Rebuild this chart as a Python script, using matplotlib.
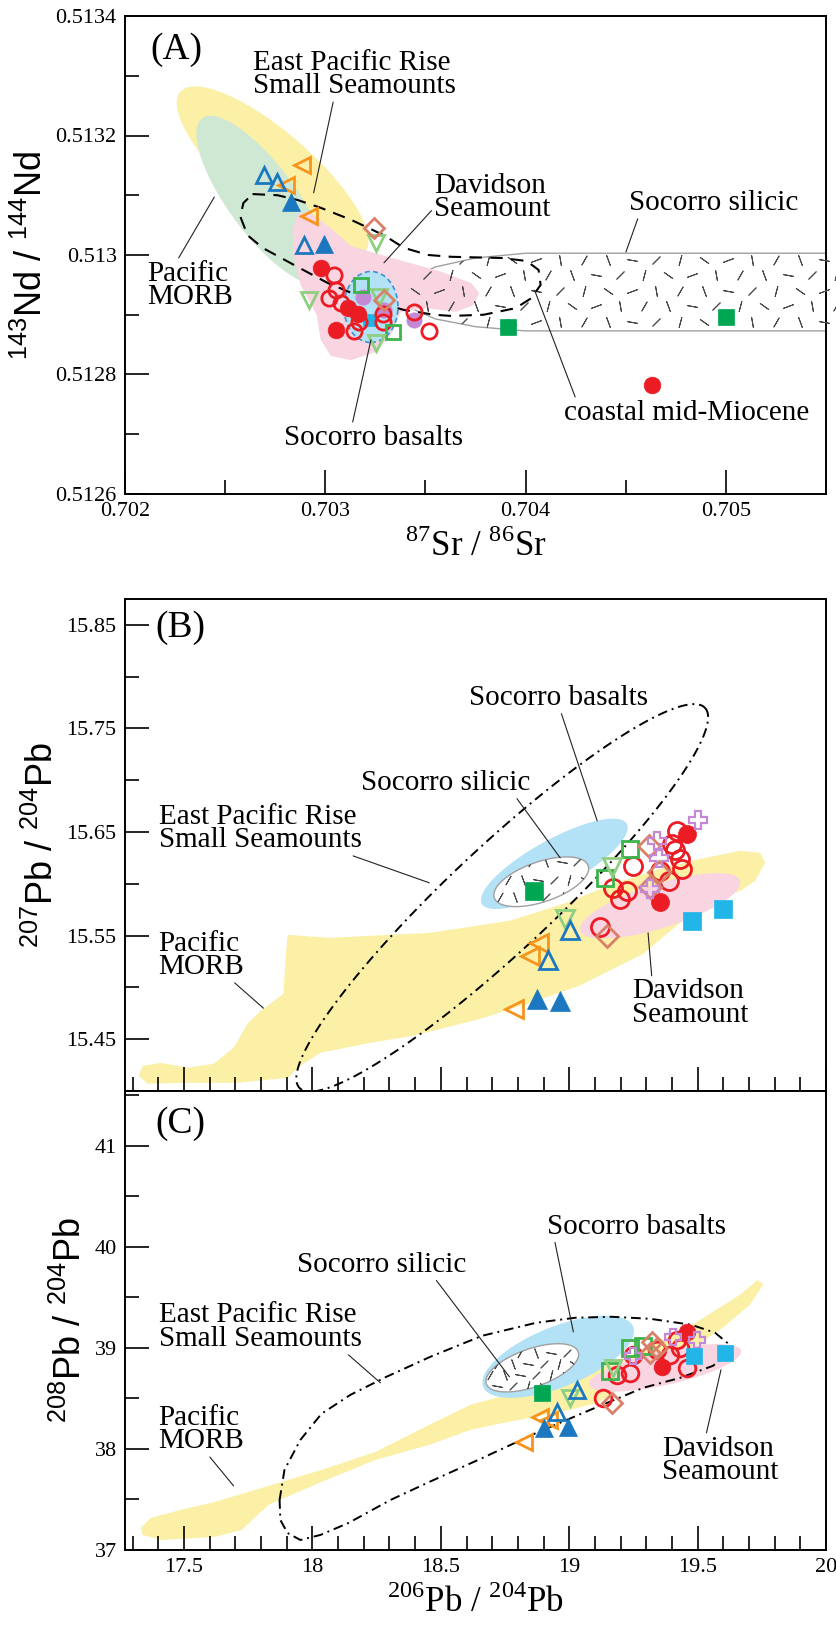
import numpy as np
import matplotlib
matplotlib.use("Agg")
import matplotlib.pyplot as plt
from matplotlib.patches import Polygon, Ellipse

plt.rcParams["font.family"] = ["Liberation Serif", "DejaVu Serif"]
plt.rcParams["mathtext.fontset"] = "custom"
plt.rcParams["mathtext.rm"] = "Liberation Serif"
plt.rcParams["mathtext.sf"] = "Liberation Sans"

# field / marker colours
YELLOW = "#fbf0a6"
GREENF = "#cfe8d3"
PINK = "#f9d4e1"
BLUEF = "#b3e1f5"
C_BLUE = "#1b78c0"
C_ORANGE = "#f7941d"
C_RED = "#ec1c24"
C_GREEN = "#00a651"
C_GREEN2 = "#3cb44b"
C_LGREEN = "#8fcf80"
C_SALMON = "#d98068"
C_PURPLE = "#c489d4"
C_CYAN = "#22b5e8"

# ---------------- panel A : 87Sr/86Sr vs 143Nd/144Nd ----------------
A_blue_open_x = [0.702693, 0.70276, 0.702894]
A_blue_open_y = [0.513134, 0.513123, 0.513017]
A_blue_fill_x = [0.702827, 0.702994]
A_blue_fill_y = [0.513089, 0.513018]
A_orange_x = [0.702886, 0.702919, 0.702802]
A_orange_y = [0.513151, 0.513065, 0.513117]
A_diamond_x = [0.703245, 0.703293]
A_diamond_y = [0.513045, 0.512925]
A_lgreen_x = [0.703253, 0.702919, 0.703253, 0.703268]
A_lgreen_y = [0.51302, 0.512925, 0.512853, 0.51293]
A_red_fill_x = [0.702977, 0.703053, 0.703111, 0.703161, 0.704632]
A_red_fill_y = [0.512978, 0.512874, 0.512911, 0.512902, 0.512782]
A_red_open_x = [0.703044, 0.703053, 0.703019, 0.703078, 0.703169, 0.703144,
                0.703287, 0.703287, 0.703445, 0.70352]
A_red_open_y = [0.512967, 0.512941, 0.512928, 0.512919, 0.512888, 0.512872,
                0.512902, 0.512888, 0.512905, 0.512872]
A_purple_x = [0.703186, 0.703295, 0.703445]
A_purple_y = [0.51293, 0.512908, 0.512891]
A_gsq_open_x = [0.703178, 0.703337]
A_gsq_open_y = [0.51295, 0.512871]
A_cyan_x = [0.703218]
A_cyan_y = [0.512891]
A_gsq_fill_x = [0.703912, 0.70500]
A_gsq_fill_y = [0.51288, 0.512897]

# fields in A (centre, two conjugate half-axes) and outlines
A_MORB = ((0.702737, 0.513139), (0.000461, -0.000134), (0.000130, 0.0000502))
A_GREEN = ((0.702687, 0.513092), (0.000301, -0.000137), (0.000137, 0.0000335))
A_BASALT = ((0.703228, 0.512913), 0.00027, 0.000119)
A_DAVIDSON = [(0.702862, 0.513067), (0.702912, 0.513074), (0.703028, 0.513045),
              (0.703128, 0.513015), (0.703313, 0.512997), (0.703579, 0.512972),
              (0.703729, 0.512953), (0.703769, 0.512936), (0.703739, 0.512916),
              (0.703654, 0.512905), (0.703504, 0.512911), (0.703378, 0.512905),
              (0.703328, 0.512866), (0.703253, 0.512838), (0.703128, 0.512824),
              (0.703028, 0.512831), (0.702977, 0.512858), (0.702957, 0.5129),
              (0.702877, 0.51295), (0.702842, 0.5130), (0.702837, 0.513042)]
A_EPR = [(0.702637, 0.513102), (0.702762, 0.513100), (0.702862, 0.513092),
         (0.702977, 0.513079), (0.703128, 0.513059), (0.703293, 0.513033),
         (0.703393, 0.513012), (0.703514, 0.5130), (0.703629, 0.512997),
         (0.70388, 0.512995), (0.704005, 0.51299), (0.704065, 0.512975),
         (0.704075, 0.51295), (0.70403, 0.512928), (0.70395, 0.512911),
         (0.70379, 0.5129), (0.703629, 0.512898), (0.703544, 0.5129),
         (0.703393, 0.512908), (0.703213, 0.512925), (0.703013, 0.512953),
         (0.702862, 0.51298), (0.702687, 0.513012), (0.702612, 0.513033),
         (0.702576, 0.513064), (0.702591, 0.513087)]
A_SILICIC = [(0.7062, 0.513003), (0.7040, 0.513003), (0.70375, 0.512995),
             (0.70355, 0.51298), (0.70342, 0.51296), (0.70336, 0.512938),
             (0.70342, 0.512912), (0.70355, 0.512893), (0.70375, 0.51288),
             (0.7040, 0.512873), (0.7062, 0.512873)]

# ---------------- panel B : 206Pb/204Pb vs 207Pb/204Pb ----------------
B_gsq_fill_x = [18.861]
B_gsq_fill_y = [15.593]
B_gsq_open_x = [19.237, 19.140]
B_gsq_open_y = [15.6335, 15.606]
B_lgreen_x = [19.166, 18.984]
B_lgreen_y = [15.616, 15.566]
B_blue_open_x = [19.004, 18.919]
B_blue_open_y = [15.555, 15.526]
B_orange_x = [18.881, 18.848, 18.783]
B_orange_y = [15.543, 15.530, 15.479]
B_blue_fill_x = [18.874, 18.965]
B_blue_fill_y = [15.489, 15.487]
B_red_open_x = [19.121, 19.25, 19.172, 19.224, 19.198, 19.387, 19.354, 19.419,
                19.40, 19.412, 19.432, 19.438]
B_red_open_y = [15.558, 15.617, 15.596, 15.593, 15.585, 15.603, 15.612, 15.651,
                15.638, 15.633, 15.624, 15.614]
B_red_fill_x = [19.458, 19.354]
B_red_fill_y = [15.648, 15.582]
B_diamond_x = [19.147, 19.309, 19.315, 19.348]
B_diamond_y = [15.550, 15.637, 15.597, 15.611]
B_purple_x = [19.503, 19.341, 19.348, 19.315]
B_purple_y = [15.662, 15.641, 15.625, 15.595]
B_cyan_x = [19.477, 19.599]
B_cyan_y = [15.564, 15.576]

B_BASALT = ((18.942, 15.6193), (0.2821, 0.0386), (0.0451, -0.0203))
B_SILICIC = ((18.891, 15.602), (0.1829, 0.01544), (0.0249, -0.01834))
B_DAVIDSON = ((19.354, 15.5788), (0.3113, 0.02413), (0.0257, -0.0203))
B_EPR = ((18.739, 15.5865), (0.7899, 0.1834), (0.1381, -0.03668))
B_MORB = [(17.903, 15.5508), (18.070, 15.5479), (18.455, 15.5527), (18.767, 15.5643),
          (18.977, 15.5807), (19.183, 15.6010), (19.354, 15.6145), (19.510, 15.6241),
          (19.665, 15.6319), (19.743, 15.6299), (19.763, 15.6203), (19.724, 15.6029),
          (19.665, 15.5932), (19.510, 15.5788), (19.288, 15.5324), (19.039, 15.5015),
          (18.872, 15.4871), (18.654, 15.4697), (18.393, 15.4533), (18.226, 15.4465),
          (18.031, 15.4369), (17.953, 15.4243), (17.903, 15.4127), (17.708, 15.4079),
          (17.514, 15.4079), (17.358, 15.4070), (17.323, 15.4147), (17.339, 15.4243),
          (17.409, 15.4272), (17.514, 15.4224), (17.615, 15.4263), (17.693, 15.4417),
          (17.747, 15.4649), (17.798, 15.4774), (17.887, 15.4938), (17.895, 15.5257)]

# ---------------- panel C : 206Pb/204Pb vs 208Pb/204Pb ----------------
C_gsq_fill_x = [18.894]
C_gsq_fill_y = [38.551]
C_blue_open_x = [19.030, 18.952]
C_blue_open_y = [38.584, 38.369]
C_lgreen_x = [19.004, 19.172]
C_lgreen_y = [38.502, 38.80]
C_blue_fill_x = [18.900, 18.997]
C_blue_fill_y = [38.205, 38.221]
C_orange_x = [18.887, 18.920, 18.822]
C_orange_y = [38.32, 38.287, 38.072]
C_red_open_x = [19.133, 19.186, 19.237, 19.25, 19.341, 19.393, 19.432, 19.458, 19.419]
C_red_open_y = [38.502, 38.733, 38.75, 38.93, 38.98, 38.93, 38.997, 38.80, 39.08]
C_red_fill_x = [19.361, 19.458]
C_red_fill_y = [38.815, 39.161]
C_gsq_open_x = [19.16, 19.237, 19.289]
C_gsq_open_y = [38.766, 38.997, 39.013]
C_diamond_x = [19.166, 19.322, 19.341, 19.315]
C_diamond_y = [38.452, 39.06, 38.997, 38.947]
C_purple_x = [19.406, 19.497, 19.25]
C_purple_y = [39.11, 39.08, 38.914]
C_cyan_x = [19.484, 19.605]
C_cyan_y = [38.914, 38.953]

C_BASALT = ((18.957, 38.911), (0.2918, 0.297), (0.0428, -0.2772))
C_SILICIC = ((18.856, 38.802), (0.179, 0.1584), (0.0241, -0.1782))
C_DAVIDSON = ((19.3735, 38.802), (0.2957, 0.1683), (0.0144, -0.1644))
C_MORB = [(17.331, 37.218), (17.370, 37.317), (17.486, 37.396), (17.619, 37.475),
          (17.829, 37.634), (18.035, 37.792), (18.245, 37.970), (18.455, 38.238),
          (18.615, 38.436), (18.875, 38.614), (19.078, 38.762), (19.288, 38.980),
          (19.498, 39.257), (19.665, 39.525), (19.735, 39.673), (19.755, 39.624),
          (19.704, 39.426), (19.588, 39.178), (19.498, 39.030), (19.288, 38.733),
          (19.109, 38.455), (19.004, 38.386), (18.743, 38.257), (18.615, 38.188),
          (18.455, 38.040), (18.245, 37.891), (18.035, 37.673), (17.829, 37.446),
          (17.724, 37.198), (17.619, 37.129), (17.412, 37.099), (17.339, 37.149)]
C_EPR = [(17.872, 37.495), (17.891, 37.792), (17.953, 38.089), (18.035, 38.347),
         (18.148, 38.535), (18.288, 38.713), (18.459, 38.911), (18.661, 39.119),
         (18.872, 39.248), (19.023, 39.297), (19.163, 39.307), (19.315, 39.287),
         (19.475, 39.228), (19.568, 39.149), (19.615, 39.050), (19.611, 38.931),
         (19.560, 38.822), (19.432, 38.703), (19.288, 38.604), (19.082, 38.386),
         (18.872, 38.158), (18.654, 37.901), (18.455, 37.673), (18.304, 37.495),
         (18.140, 37.267), (18.031, 37.149), (17.953, 37.099), (17.903, 37.168),
         (17.875, 37.297)]

# labels: text, text position, ha, leader tip, leader start (relpos in text box)
A_LABELS = [
    ("East Pacific Rise\nSmall Seamounts", (0.702637, 0.513302), "left", (0.702942, 0.513104), (0.40, 0.0)),
    ("Pacific\nMORB", (0.70211, 0.512949), "left", (0.702446, 0.513097), (0.35, 1.0)),
    ("Davidson\nSeamount", (0.703544, 0.513096), "left", (0.703293, 0.512987), (0.0, 0.3)),
    ("Socorro silicic", (0.704937, 0.513087), "center", (0.704501, 0.513005), (0.06, 0.0)),
    ("coastal mid-Miocene", (0.704804, 0.512736), "center", (0.704045, 0.512941), (0.05, 1.0)),
    ("Socorro basalts", (0.703241, 0.512694), "center", (0.703228, 0.512858), (0.38, 1.0)),
]
B_LABELS = [
    ("Socorro basalts", (18.959, 15.7795), "center", (19.109, 15.6608), (0.51, 0.0)),
    ("Socorro silicic", (18.518, 15.6975), "center", (18.965, 15.625), (0.91, 0.0)),
    ("East Pacific Rise\nSmall Seamounts", (17.401, 15.6536), "left", (18.455, 15.601), (0.92, 0.0)),
    ("Pacific\nMORB", (17.401, 15.531), "left", (17.809, 15.480), (0.85, 0.0)),
    ("Davidson\nSeamount", (19.245, 15.4847), "left", (19.307, 15.5527), (0.17, 1.0)),
]
C_LABELS = [
    ("Socorro basalts", (19.263, 40.198), "center", (19.016, 39.158), (0.04, 0.0)),
    ("Socorro silicic", (18.27, 39.822), "center", (18.767, 38.713), (0.81, 0.0)),
    ("East Pacific Rise\nSmall Seamounts", (17.401, 39.203), "left", (18.265, 38.653), (0.92, 0.0)),
    ("Pacific\nMORB", (17.401, 38.193), "left", (17.693, 37.634), (0.57, 0.0)),
    ("Davidson\nSeamount", (19.362, 37.886), "left", (19.591, 38.782), (0.375, 1.0)),
]

LABEL_FS = 21
TICK_FS = 16


def conj_ellipse(spec, n=200):
    (cx, cy), u, v = spec
    t = np.linspace(0, 2 * np.pi, n)
    return np.column_stack([cx + u[0] * np.cos(t) + v[0] * np.sin(t),
                            cy + u[1] * np.cos(t) + v[1] * np.sin(t)])


def dash_texture(ax, patch, xs, ys, size):
    # short strokes of varying direction inside the silicic field (decoration only)
    angles = [20, 80, 135, 165, 55, 110, 10, 150]
    k = 0
    for j, yv in enumerate(ys):
        shift = (xs[1] - xs[0]) * 0.5 * (j % 2)
        for xv in xs:
            m = ax.scatter([xv + shift], [yv], marker=(2, 2, angles[k % len(angles)]),
                           s=size, c="#4a4a4a", linewidths=0.7, zorder=3)
            m.set_clip_path(patch)
            k += 1


def pts(ax, x, y, marker, color, filled, ms=11, mew=2.0, z=6):
    if filled:
        ax.plot(x, y, ls="none", marker=marker, ms=ms, mfc=color, mec=color, mew=0.5, zorder=z)
    else:
        ax.plot(x, y, ls="none", marker=marker, ms=ms, mfc="none", mec=color, mew=mew, zorder=z)


def labels(ax, specs):
    for text, pos, ha, tip, rel in specs:
        ax.annotate(text, xy=tip, xytext=pos, ha=ha, va="center", fontsize=LABEL_FS,
                    linespacing=0.88, zorder=8,
                    arrowprops=dict(arrowstyle="-", lw=0.8, color="#222222",
                                    relpos=rel, shrinkA=0, shrinkB=0))


def style_axes(ax):
    for s in ax.spines.values():
        s.set_linewidth(1.4)
    ax.tick_params(which="major", direction="in", length=17, width=1.2, labelsize=TICK_FS, pad=6)
    ax.tick_params(which="minor", direction="in", length=10, width=1.2)
    ax.tick_params(top=False, right=False)


fig = plt.figure(figsize=(8.37, 16.27), dpi=100)
L, W = 125 / 837, 701 / 837
axA = fig.add_axes([L, 1 - 494 / 1627, W, 478 / 1627])
axB = fig.add_axes([L, 1 - 1091 / 1627, W, 492 / 1627])
axC = fig.add_axes([L, 1 - 1550 / 1627, W, 459 / 1627])

# ---------- A ----------
ax = axA
sil = Polygon(A_SILICIC, closed=True, fc="white", ec="#a0a0a0", lw=1.0, zorder=1)
ax.add_patch(sil)
dash_texture(ax, sil, np.arange(0.70345, 0.7060, 0.00012), np.arange(0.512888, 0.512995, 0.000026), 55)
ax.add_patch(Polygon(conj_ellipse(A_MORB), closed=True, fc=YELLOW, ec="none", zorder=1))
ax.add_patch(Polygon(conj_ellipse(A_GREEN), closed=True, fc=GREENF, ec="none", zorder=1.2))
ax.add_patch(Polygon(A_DAVIDSON, closed=True, fc=PINK, ec="none", zorder=1.5))
ax.add_patch(Ellipse(A_BASALT[0], A_BASALT[1], A_BASALT[2], fc=BLUEF, ec="#3a93d6",
                     ls=(0, (3, 2)), lw=1.2, zorder=2))
ax.add_patch(Polygon(A_EPR, closed=True, fc="none", ec="black", lw=1.5,
                     ls=(0, (6, 4)), zorder=5))
pts(ax, A_red_open_x, A_red_open_y, "o", C_RED, False, ms=11)
pts(ax, A_red_fill_x, A_red_fill_y, "o", C_RED, True, ms=12)
pts(ax, A_purple_x, A_purple_y, "o", C_PURPLE, True, ms=11, z=5.5)
pts(ax, A_gsq_open_x, A_gsq_open_y, "s", C_GREEN2, False, ms=10)
pts(ax, A_cyan_x, A_cyan_y, "s", C_CYAN, True, ms=8, z=5.5)
pts(ax, A_gsq_fill_x, A_gsq_fill_y, "s", C_GREEN, True, ms=12)
pts(ax, A_lgreen_x, A_lgreen_y, "v", C_LGREEN, False, ms=11)
pts(ax, A_diamond_x, A_diamond_y, "D", C_SALMON, False, ms=10)
pts(ax, A_orange_x, A_orange_y, "<", C_ORANGE, False, ms=12)
pts(ax, A_blue_open_x, A_blue_open_y, "^", C_BLUE, False, ms=12)
pts(ax, A_blue_fill_x, A_blue_fill_y, "^", C_BLUE, True, ms=13)
labels(ax, A_LABELS)
ax.text(0.702125, 0.513343, "(A)", fontsize=27, ha="left", va="center")
ax.set_xlim(0.702, 0.7055)
ax.set_ylim(0.5126, 0.5134)
ax.set_xticks([0.702, 0.703, 0.704, 0.705])
ax.set_xticklabels(["0.702", "0.703", "0.704", "0.705"])
ax.set_xticks([0.7025, 0.7035, 0.7045, 0.7055], minor=True)
ax.set_yticks([0.5126, 0.5128, 0.513, 0.5132, 0.5134])
ax.set_yticklabels(["0.5126", "0.5128", "0.513", "0.5132", "0.5134"])
ax.set_yticks([0.5127, 0.5129, 0.5131, 0.5133], minor=True)
style_axes(ax)
ax.set_xlabel(r"$^{87}$Sr / $^{86}$Sr", fontsize=25, labelpad=6)
ax.set_ylabel(r"$^{\mathsf{143}}$Nd / $^{\mathsf{144}}$Nd", fontsize=26,
              family=["Liberation Sans", "DejaVu Sans"], labelpad=4)

# ---------- B ----------
ax = axB
ax.add_patch(Polygon(B_MORB, closed=True, fc=YELLOW, ec="none", zorder=1))
ax.add_patch(Polygon(conj_ellipse(B_DAVIDSON), closed=True, fc=PINK, ec="none", zorder=1.5))
ax.add_patch(Polygon(conj_ellipse(B_BASALT), closed=True, fc=BLUEF, ec="none", zorder=1.6))
silB = Polygon(conj_ellipse(B_SILICIC), closed=True, fc="white", ec="#a0a0a0", lw=1.0, zorder=2)
ax.add_patch(silB)
dash_texture(ax, silB, np.arange(18.70, 19.10, 0.06), np.arange(15.57, 15.64, 0.017), 50)
ax.add_patch(Polygon(conj_ellipse(B_EPR), closed=True, fc="none", ec="black", lw=1.4,
                     ls=(0, (5, 2.5, 1, 2.5)), zorder=5))
pts(ax, B_red_open_x, B_red_open_y, "o", C_RED, False, ms=13)
pts(ax, B_red_fill_x, B_red_fill_y, "o", C_RED, True, ms=13)
pts(ax, B_gsq_open_x, B_gsq_open_y, "s", C_GREEN2, False, ms=12)
pts(ax, B_gsq_fill_x, B_gsq_fill_y, "s", C_GREEN, True, ms=13)
pts(ax, B_lgreen_x, B_lgreen_y, "v", C_LGREEN, False, ms=13)
pts(ax, B_diamond_x, B_diamond_y, "D", C_SALMON, False, ms=11)
pts(ax, B_purple_x, B_purple_y, "P", C_PURPLE, False, ms=13, mew=1.6)
pts(ax, B_cyan_x, B_cyan_y, "s", C_CYAN, True, ms=13)
pts(ax, B_orange_x, B_orange_y, "<", C_ORANGE, False, ms=13)
pts(ax, B_blue_open_x, B_blue_open_y, "^", C_BLUE, False, ms=13)
pts(ax, B_blue_fill_x, B_blue_fill_y, "^", C_BLUE, True, ms=14)
labels(ax, B_LABELS)
ax.text(17.389, 15.847, "(B)", fontsize=27, ha="left", va="center")
ax.set_xlim(17.27, 20.0)
ax.set_ylim(15.40, 15.875)
ax.set_xticks(np.arange(17.5, 20.01, 0.5))
ax.set_xticks(np.arange(17.3, 20.0, 0.1), minor=True)
ax.set_yticks([15.45, 15.55, 15.65, 15.75, 15.85])
ax.set_yticklabels(["15.45", "15.55", "15.65", "15.75", "15.85"])
ax.set_yticks([15.5, 15.6, 15.7, 15.8], minor=True)
style_axes(ax)
ax.tick_params(labelbottom=False)
ax.set_ylabel(r"$^{\mathsf{207}}$Pb / $^{\mathsf{204}}$Pb", fontsize=26,
              family=["Liberation Sans", "DejaVu Sans"], labelpad=4)

# ---------- C ----------
ax = axC
ax.add_patch(Polygon(C_MORB, closed=True, fc=YELLOW, ec="none", zorder=1))
ax.add_patch(Polygon(conj_ellipse(C_DAVIDSON), closed=True, fc=PINK, ec="none", zorder=1.5))
ax.add_patch(Polygon(conj_ellipse(C_BASALT), closed=True, fc=BLUEF, ec="none", zorder=1.6))
silC = Polygon(conj_ellipse(C_SILICIC), closed=True, fc="white", ec="#a0a0a0", lw=1.0, zorder=2)
ax.add_patch(silC)
dash_texture(ax, silC, np.arange(18.66, 19.06, 0.06), np.arange(38.62, 39.0, 0.11), 50)
ax.add_patch(Polygon(C_EPR, closed=True, fc="none", ec="black", lw=1.4,
                     ls=(0, (5, 2.5, 1, 2.5)), zorder=5))
pts(ax, C_red_open_x, C_red_open_y, "o", C_RED, False, ms=12)
pts(ax, C_red_fill_x, C_red_fill_y, "o", C_RED, True, ms=12)
pts(ax, C_gsq_open_x, C_gsq_open_y, "s", C_GREEN2, False, ms=11)
pts(ax, C_gsq_fill_x, C_gsq_fill_y, "s", C_GREEN, True, ms=12)
pts(ax, C_lgreen_x, C_lgreen_y, "v", C_LGREEN, False, ms=12)
pts(ax, C_diamond_x, C_diamond_y, "D", C_SALMON, False, ms=10)
pts(ax, C_purple_x, C_purple_y, "P", C_PURPLE, False, ms=12, mew=1.6)
pts(ax, C_cyan_x, C_cyan_y, "s", C_CYAN, True, ms=12)
pts(ax, C_orange_x, C_orange_y, "<", C_ORANGE, False, ms=12)
pts(ax, C_blue_open_x, C_blue_open_y, "^", C_BLUE, False, ms=12)
pts(ax, C_blue_fill_x, C_blue_fill_y, "^", C_BLUE, True, ms=13)
labels(ax, C_LABELS)
ax.text(17.389, 41.218, "(C)", fontsize=27, ha="left", va="center")
ax.set_xlim(17.27, 20.0)
ax.set_ylim(37, 41.54)
ax.set_xticks(np.arange(17.5, 20.01, 0.5))
ax.set_xticklabels(["17.5", "18", "18.5", "19", "19.5", "20"])
ax.set_xticks(np.arange(17.3, 20.0, 0.1), minor=True)
ax.set_yticks([37, 38, 39, 40, 41])
ax.set_yticklabels(["37", "38", "39", "40", "41"])
ax.set_yticks([37.5, 38.5, 39.5, 40.5, 41.5], minor=True)
style_axes(ax)
ax.set_xlabel(r"$^{206}$Pb / $^{204}$Pb", fontsize=25, labelpad=6)
ax.set_ylabel(r"$^{\mathsf{208}}$Pb / $^{\mathsf{204}}$Pb", fontsize=26,
              family=["Liberation Sans", "DejaVu Sans"], labelpad=4)

fig.savefig("out.png", dpi=100)
